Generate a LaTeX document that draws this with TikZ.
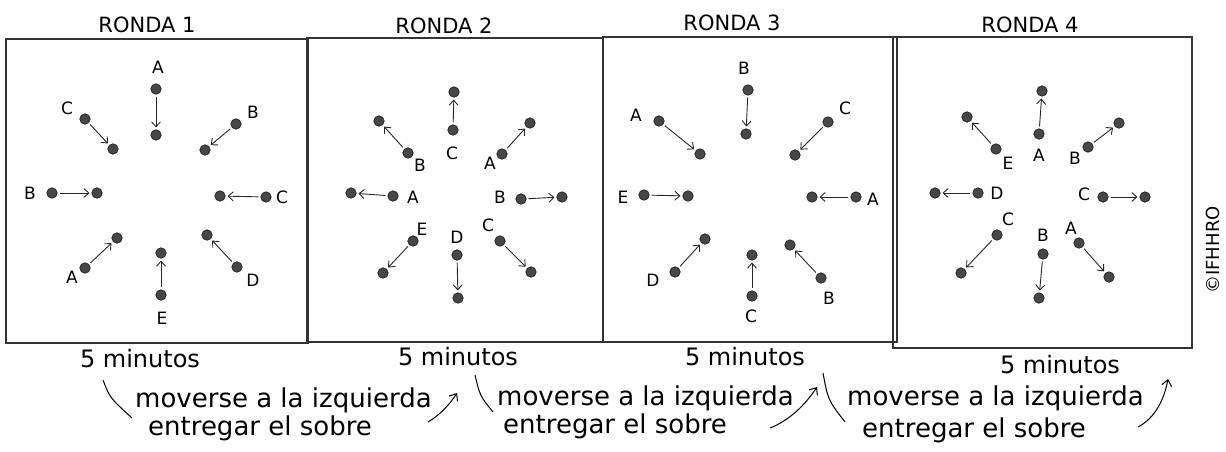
\documentclass[tikz,border=0pt]{standalone}
\usepackage{fontspec}
\setmainfont{DejaVu Sans}
\usetikzlibrary{arrows.meta}

\begin{document}
\begin{tikzpicture}[x=1pt,y=-1pt,
  panel/.style={draw=black!80,line width=1.1pt},
  dot/.style={circle,fill=black!72,draw=black!90,line width=0.6pt,minimum size=10.5pt,inner sep=0pt},
  who/.style={font=\fontsize{17}{17}\selectfont,inner sep=0pt},
  title/.style={font=\fontsize{21}{21}\selectfont,anchor=base,inner sep=0pt},
  note/.style={font=\fontsize{26}{26}\selectfont,anchor=base west,inner sep=0pt},
  time/.style={font=\fontsize{24}{24}\selectfont,anchor=base,inner sep=0pt},
  move/.style={-{Straight Barb[length=5pt,width=9pt]},line width=0.9pt,black!85,shorten <=2pt,shorten >=2pt},
  hand/.style={line width=1pt},
  turn/.style={-{Straight Barb[length=6pt,width=10pt]},line width=1pt}]
\useasboundingbox (0,0) rectangle (1226,451);

% boxes and titles
\draw[panel] (6,39) rectangle (308,343);
\draw[panel] (307,38) rectangle (603,342);
\draw[panel] (603,37) rectangle (897,342);
\draw[panel] (893,37) rectangle (1192,348);
\node[title] (t1) at (147,32) {RONDA 1};
\node[title] (t2) at (444,33) {RONDA 2};
\node[title] (t3) at (732,30) {RONDA 3};
\node[title] (t4) at (1030,32) {RONDA 4};

% ronda 1: hacia dentro
\node[dot] (r1o1) at (156,89) {};
\node[dot] (r1i1) at (156,135) {};
\node[who] (r1l1) at (158,67) {A};
\node[dot] (r1o2) at (236,124) {};
\node[dot] (r1i2) at (205,150) {};
\node[who] (r1l2) at (253,112) {B};
\node[dot] (r1o3) at (266,197) {};
\node[dot] (r1i3) at (220,196) {};
\node[who] (r1l3) at (282,197) {C};
\node[dot] (r1o4) at (237,267) {};
\node[dot] (r1i4) at (207,235) {};
\node[who] (r1l4) at (253,280) {D};
\node[dot] (r1o5) at (161,295) {};
\node[dot] (r1i5) at (161,253) {};
\node[who] (r1l5) at (162,318) {E};
\node[dot] (r1o6) at (85,268) {};
\node[dot] (r1i6) at (117,238) {};
\node[who] (r1l6) at (72,277) {A};
\node[dot] (r1o7) at (52,193) {};
\node[dot] (r1i7) at (97,193) {};
\node[who] (r1l7) at (30,193) {B};
\node[dot] (r1o8) at (85,119) {};
\node[dot] (r1i8) at (113,149) {};
\node[who] (r1l8) at (67,108) {C};
\draw[move] (r1o1)--(r1i1);
\draw[move] (r1o2)--(r1i2);
\draw[move] (r1o3)--(r1i3);
\draw[move] (r1o4)--(r1i4);
\draw[move] (r1o5)--(r1i5);
\draw[move] (r1o6)--(r1i6);
\draw[move] (r1o7)--(r1i7);
\draw[move] (r1o8)--(r1i8);

% ronda 2: hacia fuera
\node[dot] (r2o1) at (454,92) {};
\node[dot] (r2i1) at (453,130) {};
\node[who] (r2l1) at (452,153) {C};
\node[dot] (r2o2) at (530,123) {};
\node[dot] (r2i2) at (502,154) {};
\node[who] (r2l2) at (490,163) {A};
\node[dot] (r2o3) at (562,197) {};
\node[dot] (r2i3) at (521,199) {};
\node[who] (r2l3) at (500,197) {B};
\node[dot] (r2o4) at (531,272) {};
\node[dot] (r2i4) at (500,241) {};
\node[who] (r2l4) at (488,225) {C};
\node[dot] (r2o5) at (458,298) {};
\node[dot] (r2i5) at (457,255) {};
\node[who] (r2l5) at (457,237) {D};
\node[dot] (r2o6) at (383,273) {};
\node[dot] (r2i6) at (413,241) {};
\node[who] (r2l6) at (422,229) {E};
\node[dot] (r2o7) at (351,193) {};
\node[dot] (r2i7) at (393,196) {};
\node[who] (r2l7) at (413,197) {A};
\node[dot] (r2o8) at (379,121) {};
\node[dot] (r2i8) at (408,153) {};
\node[who] (r2l8) at (420,165) {B};
\draw[move] (r2i1)--(r2o1);
\draw[move] (r2i2)--(r2o2);
\draw[move] (r2i3)--(r2o3);
\draw[move] (r2i4)--(r2o4);
\draw[move] (r2i5)--(r2o5);
\draw[move] (r2i6)--(r2o6);
\draw[move] (r2i7)--(r2o7);
\draw[move] (r2i8)--(r2o8);

% ronda 3: hacia dentro
\node[dot] (r3o1) at (748,90) {};
\node[dot] (r3i1) at (746,134) {};
\node[who] (r3l1) at (744,68) {B};
\node[dot] (r3o2) at (828,122) {};
\node[dot] (r3i2) at (795,155) {};
\node[who] (r3l2) at (845,108) {C};
\node[dot] (r3o3) at (856,197) {};
\node[dot] (r3i3) at (812,197) {};
\node[who] (r3l3) at (873,199) {A};
\node[dot] (r3o4) at (821,278) {};
\node[dot] (r3i4) at (790,245) {};
\node[who] (r3l4) at (829,298) {B};
\node[dot] (r3o5) at (752,296) {};
\node[dot] (r3i5) at (752,255) {};
\node[who] (r3l5) at (751,316) {C};
\node[dot] (r3o6) at (675,272) {};
\node[dot] (r3i6) at (705,239) {};
\node[who] (r3l6) at (653,280) {D};
\node[dot] (r3o7) at (644,195) {};
\node[dot] (r3i7) at (688,196) {};
\node[who] (r3l7) at (623,197) {E};
\node[dot] (r3o8) at (659,121) {};
\node[dot] (r3i8) at (700,154) {};
\node[who] (r3l8) at (636,115) {A};
\draw[move] (r3o1)--(r3i1);
\draw[move] (r3o2)--(r3i2);
\draw[move] (r3o3)--(r3i3);
\draw[move] (r3o4)--(r3i4);
\draw[move] (r3o5)--(r3i5);
\draw[move] (r3o6)--(r3i6);
\draw[move] (r3o7)--(r3i7);
\draw[move] (r3o8)--(r3i8);

% ronda 4: hacia fuera
\node[dot] (r4o1) at (1042,91) {};
\node[dot] (r4i1) at (1039,134) {};
\node[who] (r4l1) at (1039,155) {A};
\node[dot] (r4o2) at (1119,123) {};
\node[dot] (r4i2) at (1088,147) {};
\node[who] (r4l2) at (1075,158) {B};
\node[dot] (r4o3) at (1145,197) {};
\node[dot] (r4i3) at (1103,197) {};
\node[who] (r4l3) at (1084,194) {C};
\node[dot] (r4o4) at (1109,277) {};
\node[dot] (r4i4) at (1079,243) {};
\node[who] (r4l4) at (1071,228) {A};
\node[dot] (r4o5) at (1039,298) {};
\node[dot] (r4i5) at (1043,254) {};
\node[who] (r4l5) at (1043,235) {B};
\node[dot] (r4o6) at (961,273) {};
\node[dot] (r4i6) at (997,235) {};
\node[who] (r4l6) at (1008,219) {C};
\node[dot] (r4o7) at (935,193) {};
\node[dot] (r4i7) at (978,193) {};
\node[who] (r4l7) at (997,193) {D};
\node[dot] (r4o8) at (967,117) {};
\node[dot] (r4i8) at (996,149) {};
\node[who] (r4l8) at (1008,163) {E};
\draw[move] (r4i1)--(r4o1);
\draw[move] (r4i2)--(r4o2);
\draw[move] (r4i3)--(r4o3);
\draw[move] (r4i4)--(r4o4);
\draw[move] (r4i5)--(r4o5);
\draw[move] (r4i6)--(r4o6);
\draw[move] (r4i7)--(r4o7);
\draw[move] (r4i8)--(r4o8);

\node[rotate=90,inner sep=0pt,font=\fontsize{18}{18}\selectfont] (copy) at (1213,250) {©IFHHRO};

% tiempos y cambios
\node[time] (m1) at (140,367) {5 minutos};
\node[time] (m2) at (458,365) {5 minutos};
\node[time] (m3) at (745,365) {5 minutos};
\node[time] (m4) at (1060,373) {5 minutos};
\node[note] (a1) at (135,407) {moverse a la izquierda};
\node[note] (b1) at (148,435) {entregar el sobre};
\node[note] (a2) at (497,405) {moverse a la izquierda};
\node[note] (b2) at (503,433) {entregar el sobre};
\node[note] (a3) at (847,405) {moverse a la izquierda};
\node[note] (b3) at (862,437) {entregar el sobre};
\coordinate (k1a) at (103,380);
\coordinate (k1b) at (132,418);
\coordinate (k2a) at (475,375);
\coordinate (k2b) at (493,412);
\coordinate (k3a) at (823,373);
\coordinate (k3b) at (845,422);
\draw[hand] (k1a) .. controls (110,398) .. (k1b);
\draw[hand] (k2a) .. controls (480,396) .. (k2b);
\draw[hand] (k3a) .. controls (828,400) .. (k3b);
\coordinate (u1a) at (428,422);
\coordinate (u1b) at (457,393);
\coordinate (u2a) at (770,428);
\coordinate (u2b) at (817,387);
\coordinate (u3a) at (1138,427);
\coordinate (u3b) at (1168,379);
\draw[turn] (u1a) .. controls (440,415) and (450,404) .. (u1b);
\draw[turn] (u2a) .. controls (790,420) and (805,405) .. (u2b);
\draw[turn] (u3a) .. controls (1155,418) and (1164,400) .. (u3b);
\end{tikzpicture}
\end{document}
